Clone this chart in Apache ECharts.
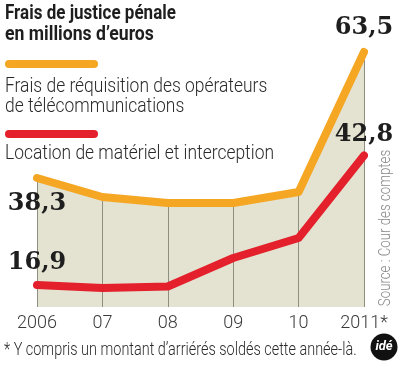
<!DOCTYPE html>
<html><head><meta charset="utf-8">
<script src="https://cdn.jsdelivr.net/npm/echarts@6/dist/echarts.min.js"></script>
<style>html,body{margin:0;padding:0;background:#fff}#c{width:400px;height:369px}</style>
</head><body><div id="c"></div>
<script>
// ---- data ----
var years = ['2006', '07', '08', '09', '10', '2011*'];
var requisition = [38.3, 34.5, 33.3, 33.3, 35.5, 63.5];
var location_ = [16.9, 16.3, 16.6, 22.3, 26.3, 42.8];
var seriesNames = ['Frais de réquisition des opérateurs\nde télécommunications', 'Location de matériel et interception'];
var titleLines = ['Frais de justice pénale', 'en millions d\u2019euros'];
var footnote = '* Y compris un montant d\u2019arriérés soldés cette année-là.';
var source = 'Source : Cour des comptes';

var ORANGE = '#f5a623', RED = '#e3202b', FILL = '#e4e2d0', GRID = '#8f8f80';
var SANS = 'Roboto, "Liberation Sans", sans-serif';
var SERIF = '"DejaVu Serif", serif';
var yMin = 12.5, yMax = 70;

function fmt(v){ return String(v).replace('.', ','); }
function labelled(values, cfg){
  return values.map(function(v, i){
    if (!cfg[i]) return v;
    return {value: v, label: {show: true, position: cfg[i][0], distance: cfg[i][1],
      formatter: function(p){ return fmt(p.value); },
      fontFamily: SERIF, fontWeight: 'bold', fontSize: 24, color: '#1e1e1e'}};
  });
}
var last = years.length - 1;
var cfgOrange = {}; cfgOrange[0] = ['bottom', 13]; cfgOrange[last] = ['top', 12];
var cfgRed = {}; cfgRed[0] = ['top', 10]; cfgRed[last] = ['top', 8];

function ctext(txt, x, y, size, opts){
  opts = opts || {};
  return {type: 'text', x: x, y: y, scaleX: opts.sx || 0.78, rotation: opts.rot || 0, z: 10,
    style: {text: txt, x: 0, y: 0, fontFamily: SANS, fontSize: size, fontWeight: opts.bold ? 'bold' : (opts.weight || 'normal'),
      fill: opts.color || '#2a2a2a', align: opts.align || 'left', verticalAlign: 'middle'}};
}

var nameLines = seriesNames[0].split('\n');
var chart = echarts.init(document.getElementById('c'), null, {renderer: 'canvas'});
chart.setOption({
  animation: false,
  grid: {left: 37, right: 36, top: 19.5, bottom: 62},
  xAxis: {type: 'category', data: years, boundaryGap: false,
    axisLine: {show: false}, axisTick: {show: false}, splitLine: {show: false},
    axisLabel: {margin: 7, fontFamily: SANS, fontSize: 18, fontWeight: 300, color: '#3a3a3a'}},
  yAxis: {type: 'value', min: yMin, max: yMax, show: false},
  series: [
    {type: 'line', name: 'area', data: requisition, z: 1, silent: true,
      symbol: 'none', lineStyle: {width: 0, opacity: 0},
      areaStyle: {color: FILL, opacity: 1, origin: 'start'},
      markLine: {silent: true, symbol: 'none', label: {show: false}, z: 1.5,
        lineStyle: {color: GRID, width: 1, type: 'solid'},
        data: requisition.map(function(v, i){ return [{coord: [i, yMin]}, {coord: [i, v]}]; })}},
    {type: 'line', name: seriesNames[0], data: labelled(requisition, cfgOrange), z: 2,
      symbol: 'circle', symbolSize: 1, showSymbol: true, itemStyle: {color: ORANGE},
      lineStyle: {color: ORANGE, width: 8, cap: 'round', join: 'round'}},
    {type: 'line', name: seriesNames[1], data: labelled(location_, cfgRed), z: 3,
      symbol: 'circle', symbolSize: 1, showSymbol: true, itemStyle: {color: RED},
      lineStyle: {color: RED, width: 8, cap: 'round', join: 'round'}}
  ],
  graphic: [
    ctext(titleLines[0], 5, 14, 21, {bold: true, sx: 0.81, color: '#1e1e1e'}),
    ctext(titleLines[1], 5, 35, 21, {bold: true, sx: 0.84, color: '#1e1e1e'}),
    {type: 'rect', shape: {x: 5, y: 60, width: 93, height: 8, r: 4}, style: {fill: ORANGE}},
    ctext(nameLines[0], 5, 87, 21, {sx: 0.83, weight: 300}),
    ctext(nameLines[1], 5, 107, 21, {sx: 0.83, weight: 300}),
    {type: 'rect', shape: {x: 5, y: 130, width: 93, height: 8, r: 4}, style: {fill: RED}},
    ctext(seriesNames[1], 5, 154, 21, {sx: 0.83, weight: 300}),
    ctext(footnote, 4, 350, 19, {sx: 0.76, weight: 300}),
    ctext(source, 386, 228, 17, {rot: Math.PI / 2, align: 'center', color: '#8a8a8a', sx: 0.78, weight: 300}),
    {type: 'circle', shape: {cx: 384, cy: 347, r: 13.5}, style: {fill: '#111'}},
    {type: 'text', x: 384, y: 347, style: {text: 'idé', fontFamily: SANS, fontWeight: 'bold', fontStyle: 'italic', fontSize: 13, fill: '#fff', align: 'center', verticalAlign: 'middle'}}
  ]
});
</script></body></html>
